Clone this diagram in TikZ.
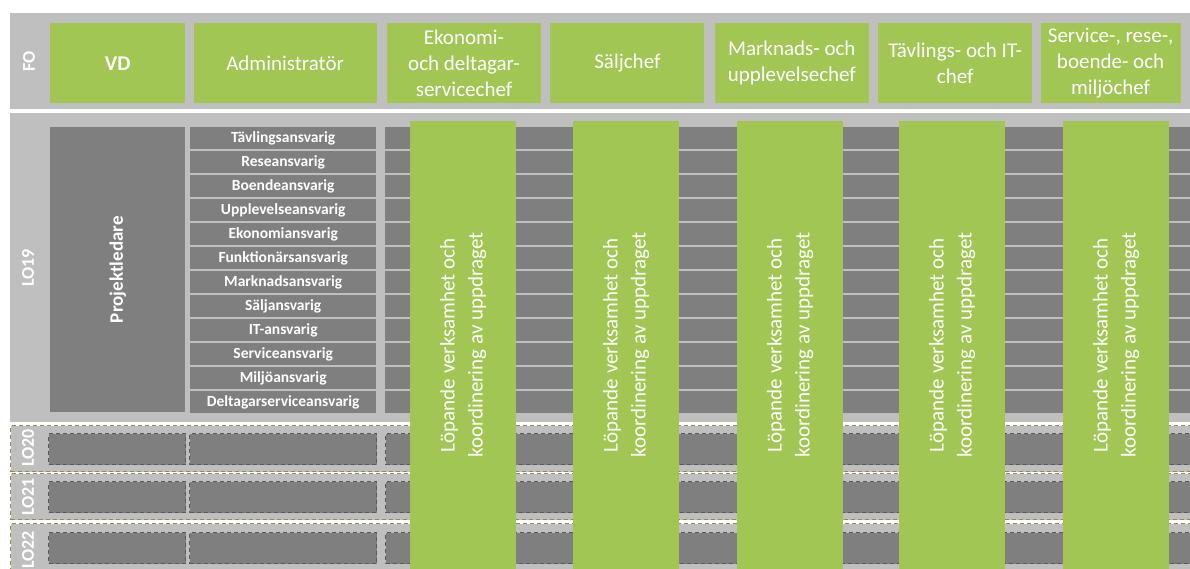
\documentclass[tikz,border=0pt]{standalone}
\usepackage{fontspec}
\setmainfont{Carlito}
\usetikzlibrary{positioning}

\definecolor{chefGreen}{RGB}{161,198,84}
\definecolor{bandGray}{RGB}{191,191,191}
\definecolor{boxGray}{RGB}{127,127,127}
\definecolor{dashOlive}{RGB}{148,138,84}
\definecolor{dashGray}{RGB}{89,89,89}

\tikzset{
  band/.style={fill=bandGray, inner sep=0pt, anchor=north west, minimum width=1180},
  lateband/.style={band, draw=dashOlive, dashed, dash pattern=on 4pt off 3pt, line width=1.2pt},
  bandlabel/.style={text=white, rotate=90, font=\fontsize{18}{18}\selectfont\bfseries},
  chef/.style={fill=chefGreen, text=white, inner sep=0pt, minimum height=80, align=center,
    font=\fontsize{21}{26}\selectfont},
  rolebox/.style={fill=boxGray, text=white, inner sep=0pt, anchor=north west,
    minimum width=186, minimum height=21.5, font=\fontsize{15.5}{16}\selectfont\bfseries},
  rowbox/.style={fill=boxGray, inner sep=0pt, anchor=north west, minimum width=805, minimum height=21.5},
  latebox/.style={fill=boxGray, draw=dashGray, dashed, dash pattern=on 4pt off 3pt, line width=1pt,
    inner sep=0pt, anchor=north west, minimum height=31},
  bar/.style={fill=chefGreen, inner sep=0pt, anchor=north west, minimum width=106, minimum height=448},
  bartext/.style={text=white, rotate=90, align=center, font=\fontsize{21}{28}\selectfont}
}

\begin{document}
\begin{tikzpicture}[x=1pt, y=-1pt]
  \useasboundingbox (0,0) rectangle (1190,569);
  \clip (0,0) rectangle (1190,569);

  % FO
  \node [band, minimum height=96] (fo) at (10,13) {};
  \node [bandlabel] (foLabel) at (29,61) {FO};
  \node [chef, anchor=north west, minimum width=135, font=\fontsize{21}{26}\selectfont\bfseries] (vd) at (50,23) {VD};
  \node [chef, minimum width=183, right=8pt of vd] (admin) {Administratör};
  \node [chef, minimum width=154, right=10pt of admin] (ekonomi) {Ekonomi-\\och deltagar-\\servicechef};
  \node [chef, minimum width=154, right=9pt of ekonomi] (salj) {Säljchef};
  \node [chef, minimum width=154, right=10pt of salj] (marknad) {Marknads- och\\upplevelsechef};
  \node [chef, minimum width=154, right=9pt of marknad] (tavling) {Tävlings- och IT-\\chef};
  \node [chef, minimum width=140, right=8pt of tavling] (service) {Service-, rese-,\\boende- och\\miljöchef};

  % LO19
  \node [band, minimum height=309] (lo19) at (10,113) {};
  \node [bandlabel] (lo19Label) at (28,268) {LO19};
  \node [fill=boxGray, inner sep=0pt, anchor=north west, minimum width=135, minimum height=285] (pl) at (50,127) {};
  \node [text=white, rotate=90, font=\fontsize{19}{19}\selectfont\bfseries] (plText) at (pl.center) {Projektledare};
  \foreach \name [count=\i from 0] in {Tävlingsansvarig, Reseansvarig, Boendeansvarig,
      Upplevelseansvarig, Ekonomiansvarig, Funktionärsansvarig, Marknadsansvarig,
      Säljansvarig, IT-ansvarig, Serviceansvarig, Miljöansvarig, Deltagarserviceansvarig} {
    \node [rolebox] (role\i) at (190,127+24*\i) {\name};
    \node [rowbox] (row\i) at (385,127+24*\i) {};
  }

  % LO20 - LO22
  \node [lateband, minimum height=46] (lo20) at (10,425) {};
  \node [lateband, minimum height=46] (lo21) at (10,473) {};
  \node [lateband, minimum height=60] (lo22) at (10,523) {};
  \foreach \y/\lo in {433/20, 481/21, 532/22} {
    \node [latebox, minimum width=137] (pl\lo) at (48,\y) {};
    \node [latebox, minimum width=187] (role\lo) at (189,\y) {};
    \node [latebox, minimum width=820] (row\lo) at (385,\y) {};
  }
  \node [bandlabel] (lo20Label) at (28,448) {LO20};
  \node [bandlabel] (lo21Label) at (28,497) {LO21};
  \node [bandlabel] (lo22Label) at (28,550) {LO22};

  % green bars
  \foreach \x [count=\i] in {410,573,737,899,1063} {
    \node [bar] (bar\i) at (\x,121) {};
    \node [bartext] (barText\i) at (bar\i.center) {Löpande verksamhet och\\koordinering av uppdraget};
  }
\end{tikzpicture}
\end{document}
